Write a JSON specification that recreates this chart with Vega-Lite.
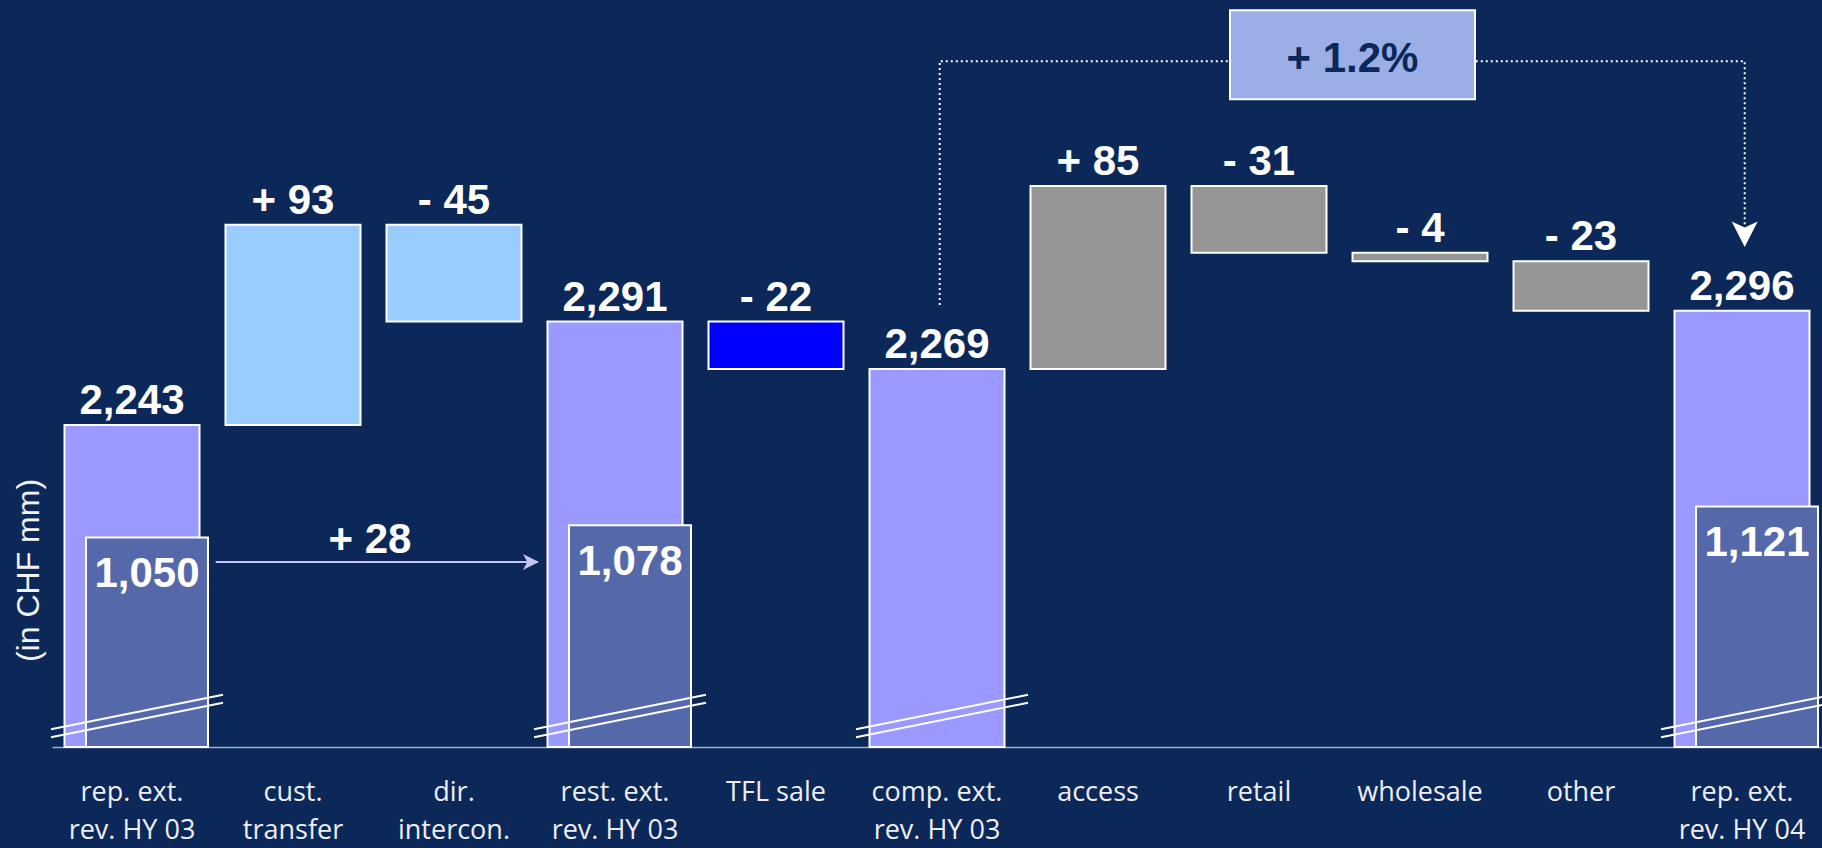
{
  "$schema": "https://vega.github.io/schema/vega-lite/v6.json",
  "width": 1770,
  "height": 747,
  "autosize": {"type": "none"},
  "padding": {"left": 52, "top": 0, "right": 0, "bottom": 101},
  "background": "#0B2858",
  "config": {"view": {"stroke": null}, "axis": {"grid": false}},
  "datasets": {
    "bars": [
      {"cat": "rep. ext.\nrev. HY 03", "kind": "total", "hi": 2243, "lo": null, "label": "2,243"},
      {"cat": "cust.\ntransfer", "kind": "transfer", "hi": 2336, "lo": 2243, "label": "+ 93"},
      {"cat": "dir.\nintercon.", "kind": "transfer", "hi": 2336, "lo": 2291, "label": "- 45"},
      {"cat": "rest. ext.\nrev. HY 03", "kind": "total", "hi": 2291, "lo": null, "label": "2,291"},
      {"cat": "TFL sale", "kind": "sale", "hi": 2291, "lo": 2269, "label": "- 22"},
      {"cat": "comp. ext.\nrev. HY 03", "kind": "total", "hi": 2269, "lo": null, "label": "2,269"},
      {"cat": "access", "kind": "ops", "hi": 2354, "lo": 2269, "label": "+ 85"},
      {"cat": "retail", "kind": "ops", "hi": 2354, "lo": 2323, "label": "- 31"},
      {"cat": "wholesale", "kind": "ops", "hi": 2323, "lo": 2319, "label": "- 4"},
      {"cat": "other", "kind": "ops", "hi": 2319, "lo": 2296, "label": "- 23"},
      {"cat": "rep. ext.\nrev. HY 04", "kind": "total", "hi": 2296, "lo": null, "label": "2,296"}
    ],
    "inner": [
      {"cat": "rep. ext.\nrev. HY 03", "val": 1050, "label": "1,050"},
      {"cat": "rest. ext.\nrev. HY 03", "val": 1078, "label": "1,078"},
      {"cat": "rep. ext.\nrev. HY 04", "val": 1121, "label": "1,121"}
    ],
    "path": [
      {"cat": "comp. ext.\nrev. HY 03", "v": 2298.7, "step": 1},
      {"cat": "comp. ext.\nrev. HY 03", "v": 2412, "step": 2},
      {"cat": "rep. ext.\nrev. HY 04", "v": 2412, "step": 3},
      {"cat": "rep. ext.\nrev. HY 04", "v": 2336, "step": 4}
    ],
    "arrowDown": [{"cat": "rep. ext.\nrev. HY 04", "v": 2331.7}],
    "box": [{"cat": "wholesale", "v": 2415, "label": "+ 1.2%"}],
    "chg": [
      {"cat": "rep. ext.\nrev. HY 03", "v": 2179.3},
      {"cat": "dir.\nintercon.", "v": 2179.3}
    ],
    "chgHead": [{"cat": "dir.\nintercon.", "v": 2179.3}],
    "chgLabel": [{"cat": "cust.\ntransfer", "v": 2179.3, "label": "+ 28"}]
  },
  "encoding": {
    "x": {
      "field": "cat",
      "type": "nominal",
      "sort": null,
      "title": null,
      "scale": {
        "domain": ["rep. ext.\nrev. HY 03", "cust.\ntransfer", "dir.\nintercon.", "rest. ext.\nrev. HY 03", "TFL sale", "comp. ext.\nrev. HY 03", "access", "retail", "wholesale", "other", "rep. ext.\nrev. HY 04"],
        "paddingInner": 0.1615,
        "paddingOuter": 0.0776
      },
      "axis": {
        "orient": "bottom",
        "labelExpr": "split(datum.label, '\\n')",
        "labelFont": "Open Sans",
        "labelFontSize": 27,
        "labelColor": "#EEEEF4",
        "labelLineHeight": 38,
        "labelPadding": 32,
        "labelAngle": 0,
        "labelOverlap": false,
        "labelLimit": 400,
        "ticks": false,
        "domainColor": "#A3ABCB",
        "domainWidth": 1.5
      }
    }
  },
  "layer": [
    {
      "layer": [
        {
          "data": {"name": "bars"},
          "transform": [{"filter": "datum.kind == 'total'"}],
          "mark": {"type": "bar", "stroke": "white", "strokeWidth": 2},
          "encoding": {
            "y": {
              "field": "hi", "type": "quantitative",
              "scale": {"domain": [2093.4, 2440.4], "zero": false, "nice": false, "clamp": true},
              "axis": {
                "orient": "left",
                "title": "(in CHF mm)", "labels": false, "ticks": false, "domain": false, "grid": false,
                "titleX": -24, "titleY": 570, "titleAngle": 270, "titleAlign": "center", "titleBaseline": "middle",
                "titleFont": "Liberation Sans", "titleFontSize": 32, "titleFontWeight": "normal", "titleColor": "#F2F2F2"
              }
            },
            "color": {
              "field": "kind", "type": "nominal",
              "scale": {"domain": ["total", "transfer", "sale", "ops"], "range": ["#9999FF", "#99CCFF", "#0000FF", "#969696"]},
              "legend": null
            }
          }
        },
        {
          "data": {"name": "bars"},
          "transform": [{"filter": "datum.kind != 'total'"}],
          "mark": {"type": "bar", "stroke": "white", "strokeWidth": 2},
          "encoding": {
            "y": {"field": "hi", "type": "quantitative", "scale": {"domain": [2093.4, 2440.4], "zero": false, "nice": false, "clamp": true}},
            "y2": {"field": "lo"},
            "color": {
              "field": "kind", "type": "nominal",
              "scale": {"domain": ["total", "transfer", "sale", "ops"], "range": ["#9999FF", "#99CCFF", "#0000FF", "#969696"]},
              "legend": null
            }
          }
        },
        {
          "data": {"name": "bars"},
          "mark": {"type": "text", "baseline": "alphabetic", "align": "center", "dy": -11, "font": "Liberation Sans", "fontWeight": "bold", "fontSize": 42, "color": "white"},
          "encoding": {
            "y": {"field": "hi", "type": "quantitative", "scale": {"domain": [2093.4, 2440.4], "zero": false, "nice": false, "clamp": true}},
            "text": {"field": "label"}
          }
        },
        {
          "data": {"name": "path"},
          "mark": {"type": "line", "color": "white", "strokeWidth": 2, "strokeDash": [2, 3]},
          "encoding": {
            "x": {"field": "cat", "type": "nominal", "bandPosition": 0.52, "title": null},
            "y": {"field": "v", "type": "quantitative", "scale": {"domain": [2093.4, 2440.4], "zero": false, "nice": false, "clamp": true}},
            "order": {"field": "step"}
          }
        },
        {
          "data": {"name": "arrowDown"},
          "mark": {"type": "point", "shape": "M0,1L-1,-0.96L0,-0.5L1,-0.96Z", "size": 676, "filled": true, "fill": "white", "opacity": 1, "strokeWidth": 0},
          "encoding": {
            "x": {"field": "cat", "type": "nominal", "bandPosition": 0.52, "title": null},
            "y": {"field": "v", "type": "quantitative", "scale": {"domain": [2093.4, 2440.4], "zero": false, "nice": false, "clamp": true}}
          }
        },
        {
          "data": {"name": "box"},
          "mark": {"type": "point", "shape": "M-1,-0.363L1,-0.363L1,0.363L-1,0.363Z", "size": 60025, "filled": true, "fill": "#9BAEE6", "stroke": "white", "strokeWidth": 2, "opacity": 1},
          "encoding": {
            "x": {"field": "cat", "type": "nominal", "bandPosition": 0, "title": null},
            "y": {"field": "v", "type": "quantitative", "scale": {"domain": [2093.4, 2440.4], "zero": false, "nice": false, "clamp": true}}
          }
        },
        {
          "data": {"name": "box"},
          "mark": {"type": "text", "baseline": "alphabetic", "align": "center", "dy": 17.5, "font": "Liberation Sans", "fontWeight": "bold", "fontSize": 42, "color": "#0B2858"},
          "encoding": {
            "x": {"field": "cat", "type": "nominal", "bandPosition": 0, "title": null},
            "y": {"field": "v", "type": "quantitative", "scale": {"domain": [2093.4, 2440.4], "zero": false, "nice": false, "clamp": true}},
            "text": {"field": "label"}
          }
        }
      ]
    },
    {
      "layer": [
        {
          "data": {"name": "inner"},
          "mark": {"type": "bar", "width": 122, "xOffset": 15, "color": "#5568AA", "stroke": "white", "strokeWidth": 2},
          "encoding": {
            "y": {"field": "val", "type": "quantitative", "scale": {"domain": [570, 2281], "zero": false, "nice": false, "clamp": true}, "axis": null}
          }
        },
        {
          "data": {"name": "inner"},
          "mark": {"type": "text", "xOffset": 15, "dy": 50, "baseline": "alphabetic", "align": "center", "font": "Liberation Sans", "fontWeight": "bold", "fontSize": 42, "color": "white"},
          "encoding": {
            "y": {"field": "val", "type": "quantitative", "scale": {"domain": [570, 2281], "zero": false, "nice": false, "clamp": true}, "axis": null},
            "text": {"field": "label"}
          }
        }
      ]
    },
    {
      "layer": [
        {
          "data": {"name": "bars"},
          "transform": [{"filter": "datum.kind == 'total'"}],
          "mark": {"type": "point", "shape": "M-1,0.1535L1,-0.2465M-1,0.2465L1,-0.1535", "size": 29584, "filled": false, "stroke": "white", "strokeWidth": 2, "opacity": 1, "xOffset": 5},
          "encoding": {
            "y": {"datum": 2107.8, "type": "quantitative", "scale": {"domain": [2093.4, 2440.4], "zero": false, "nice": false, "clamp": true}, "axis": null}
          }
        },
        {
          "data": {"name": "chg"},
          "mark": {"type": "line", "color": "#C5C5F2", "strokeWidth": 2},
          "encoding": {
            "x": {"field": "cat", "type": "nominal", "bandPosition": 1.12, "title": null},
            "y": {"field": "v", "type": "quantitative", "scale": {"domain": [2093.4, 2440.4], "zero": false, "nice": false, "clamp": true}, "axis": null}
          }
        },
        {
          "data": {"name": "chgHead"},
          "mark": {"type": "point", "shape": "M1,0L-1,-1L-0.45,0L-1,1Z", "size": 256, "filled": true, "fill": "#C5C5F2", "opacity": 1, "strokeWidth": 0},
          "encoding": {
            "x": {"field": "cat", "type": "nominal", "bandPosition": 1.07, "title": null},
            "y": {"field": "v", "type": "quantitative", "scale": {"domain": [2093.4, 2440.4], "zero": false, "nice": false, "clamp": true}, "axis": null}
          }
        },
        {
          "data": {"name": "chgLabel"},
          "mark": {"type": "text", "baseline": "alphabetic", "align": "center", "dy": -9, "font": "Liberation Sans", "fontWeight": "bold", "fontSize": 42, "color": "white"},
          "encoding": {
            "x": {"field": "cat", "type": "nominal", "bandPosition": 1.07, "title": null},
            "y": {"field": "v", "type": "quantitative", "scale": {"domain": [2093.4, 2440.4], "zero": false, "nice": false, "clamp": true}, "axis": null},
            "text": {"field": "label"}
          }
        }
      ]
    }
  ],
  "resolve": {"scale": {"y": "independent"}}
}
